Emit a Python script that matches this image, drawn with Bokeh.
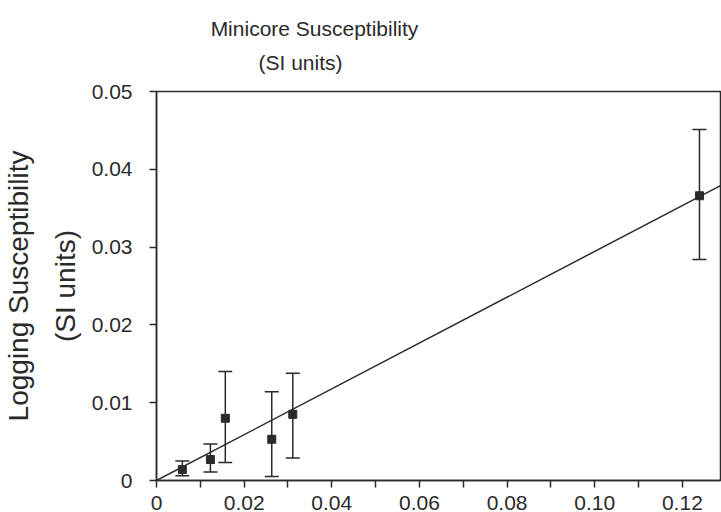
from bokeh.plotting import figure
from bokeh.layouts import column
from bokeh.models import ColumnDataSource, Whisker, TeeHead, FixedTicker, Range1d
from bokeh.core.properties import value
from bokeh.embed import file_html
from bokeh.resources import INLINE

# Data
minicore = [0.0059, 0.0123, 0.0157, 0.0263, 0.0311, 0.1239]
logging = [0.0014, 0.0027, 0.0080, 0.0053, 0.0085, 0.0366]
logging_upper = [0.0025, 0.0047, 0.0140, 0.0114, 0.0138, 0.0451]
logging_lower = [0.0006, 0.0011, 0.0023, 0.0005, 0.0029, 0.0284]

fit_x = [0.0, 0.1287]
fit_y = [0.0, 0.0379]

x_ticks = [0, 0.02, 0.04, 0.06, 0.08, 0.10, 0.12]
x_tick_labels = ["0", "0.02", "0.04", "0.06", "0.08", "0.10", "0.12"]
x_minor_ticks = [0.01, 0.03, 0.05, 0.07, 0.09, 0.11]
y_ticks = [0, 0.01, 0.02, 0.03, 0.04, 0.05]
y_tick_labels = ["0", "0.01", "0.02", "0.03", "0.04", "0.05"]

title_lines = ["Minicore Susceptibility", "(SI units)"]

FONT = "Liberation Sans"
INK = "#2a2a2a"
W, TH = 721, 76
LEFT, RIGHT = 156, 1

# ---- title strip (its frame is aligned with the main frame, so use pixel range) ----
tf = figure(width=W, height=TH, output_backend="svg", toolbar_location=None,
            x_range=Range1d(LEFT, W - RIGHT), y_range=Range1d(0, TH),
            x_axis_type=None, y_axis_type=None, min_border=0,
            min_border_left=LEFT, min_border_right=RIGHT)
tf.outline_line_color = None
tf.grid.visible = False
tf.background_fill_color = "white"
tf.border_fill_color = "white"
tf.text(x=[314, 300], y=[TH - 28, TH - 62], text=title_lines,
        text_font=value(FONT), text_font_size="21px", text_color=INK,
        text_align="center", text_baseline="middle")

# ---- main plot ----
p = figure(width=W, height=512 - TH, output_backend="svg", toolbar_location=None,
           x_range=Range1d(0, 0.1287), y_range=Range1d(0, 0.05),
           min_border_left=LEFT, min_border_right=RIGHT, min_border_top=15, min_border_bottom=30)
p.background_fill_color = "white"
p.border_fill_color = "white"
p.grid.visible = False
p.outline_line_color = INK
p.outline_line_width = 1.5

for ax in (p.xaxis[0], p.yaxis[0]):
    ax.axis_line_color = INK
    ax.axis_line_width = 1.5
    ax.major_tick_line_color = INK
    ax.major_tick_line_width = 1.5
    ax.minor_tick_line_color = INK
    ax.minor_tick_line_width = 1.5
    ax.major_tick_in = 0
    ax.major_tick_out = 7
    ax.minor_tick_in = 0
    ax.minor_tick_out = 7
    ax.major_label_text_font = FONT
    ax.major_label_text_font_size = "21px"
    ax.major_label_text_color = INK

p.xaxis[0].ticker = FixedTicker(ticks=x_ticks, minor_ticks=x_minor_ticks)
p.xaxis[0].major_label_overrides = dict(zip(x_ticks, x_tick_labels))
p.xaxis[0].major_label_standoff = 8
p.yaxis[0].ticker = FixedTicker(ticks=y_ticks, minor_ticks=[])
p.yaxis[0].major_label_overrides = dict(zip(y_ticks, y_tick_labels))
p.yaxis[0].major_label_standoff = 17
p.yaxis[0].axis_label = "Logging Susceptibility\n(SI units)"
p.yaxis[0].axis_label_text_font = FONT
p.yaxis[0].axis_label_text_font_size = "28px"
p.yaxis[0].axis_label_text_font_style = "normal"
p.yaxis[0].axis_label_text_color = INK
p.yaxis[0].axis_label_text_line_height = 1.5
p.yaxis[0].axis_label_standoff = 8

# fit line
p.line(fit_x, fit_y, line_color=INK, line_width=1.5)

# error bars
src = ColumnDataSource(dict(x=minicore, y=logging, upper=logging_upper, lower=logging_lower))
w = Whisker(base="x", upper="upper", lower="lower", source=src,
            line_color=INK, line_width=1.5,
            upper_head=TeeHead(size=14, line_color=INK, line_width=1.5),
            lower_head=TeeHead(size=14, line_color=INK, line_width=1.5))
p.add_layout(w)

p.scatter("x", "y", source=src, marker="square", size=8, fill_color=INK, line_color=INK)

layout = column(tf, p, spacing=0)
open("out.html", "w").write(file_html(layout, INLINE))
